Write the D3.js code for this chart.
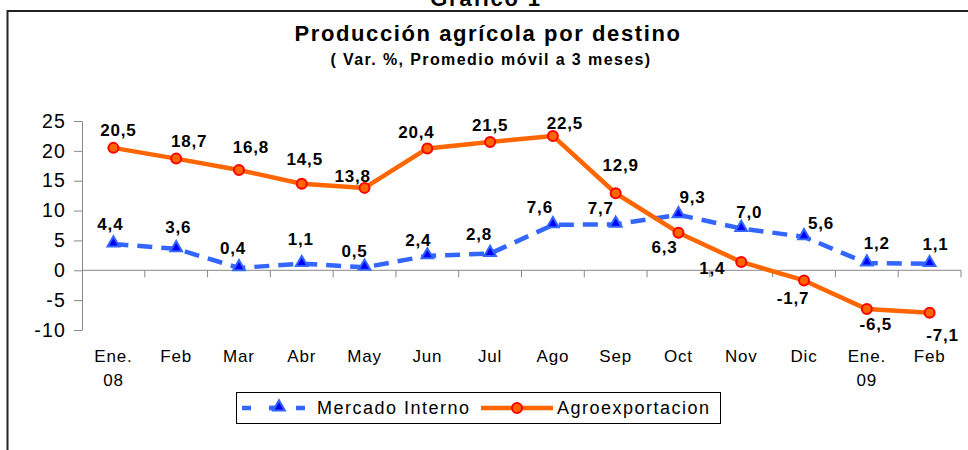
<!DOCTYPE html>
<html>
<head>
  <meta charset="utf-8">
  <script src="https://cdnjs.cloudflare.com/ajax/libs/d3/7.8.5/d3.min.js"></script>
  <style>
    body { margin: 0; background: #fff; }
    svg { display: block; font-family: "Liberation Sans", Arial, sans-serif; }
  </style>
</head>
<body>
  <svg></svg>
  <script>
    // data
    var categories = ["Ene.|08", "Feb", "Mar", "Abr", "May", "Jun", "Jul", "Ago", "Sep", "Oct", "Nov", "Dic", "Ene.|09", "Feb"];
    var mercadoInterno = [4.4, 3.6, 0.4, 1.1, 0.5, 2.4, 2.8, 7.6, 7.7, 9.3, 7.0, 5.6, 1.2, 1.1];
    var agroexportacion = [20.5, 18.7, 16.8, 14.5, 13.8, 20.4, 21.5, 22.5, 12.9, 6.3, 1.4, -1.7, -6.5, -7.1];
    var yTicks = [-10, -5, 0, 5, 10, 15, 20, 25];
    var seriesNames = ["Mercado Interno", "Agroexportacion"];

    // label placement (offset from the point, in px)
    var mercadoLabelOffset = [[-3, -20], [2, -22], [-6, -20], [-1, -25], [-10, -16], [-9, -16], [-11, -20],
      [-13, -18], [-15, -16], [14, -18], [8, -17], [17, -14], [10, -20], [6, -20]];
    var agroLabelOffset = [[5, -18], [13, -18], [12, -23], [3, -25], [-12, -12], [-11, -17], [0, -17],
      [12, -13], [5, -28], [-14, 14], [-29, 6], [-11, 17], [9, 15], [13, 22]];

    var svgWidth = 968, svgHeight = 450;
    var svg = d3.select("svg").attr("width", svgWidth).attr("height", svgHeight);

    var blue = "#3366ff", orange = "#ff6600";

    // frame (right and bottom fall outside the picture)
    svg.append("rect")
      .attr("x", 7.5).attr("y", 11)
      .attr("width", 1000).attr("height", 500)
      .attr("fill", "none").attr("stroke", "#222").attr("stroke-width", 2);

    // titles (the first one is cut by the top edge, as in the source)
    svg.append("text").attr("x", 486).attr("y", 6)
      .attr("text-anchor", "middle").style("font-weight", "bold").style("font-size", "22px")
      .style("letter-spacing", "1.8px").text("Gráfico 1");
    svg.append("text").attr("x", 488).attr("y", 41)
      .attr("text-anchor", "middle").style("font-weight", "bold").style("font-size", "22px")
      .style("letter-spacing", "1.6px").text("Producción agrícola por destino");
    svg.append("text").attr("x", 491).attr("y", 64.5)
      .attr("text-anchor", "middle").style("font-weight", "bold").style("font-size", "16px")
      .style("letter-spacing", "1.4px").text("( Var. %, Promedio móvil a 3 meses)");

    // scales
    var x = d3.scaleBand().domain(d3.range(categories.length)).range([82, 961]);
    var y = d3.scaleLinear().domain([-10, 25]).range([330, 121]);
    var cx = function(i) { return x(i) + x.bandwidth() / 2; };

    // comma decimals, plain hyphen for negatives
    var fmt = function(v) { return v.toFixed(1).replace(".", ","); };

    // y axis
    var yAxis = svg.append("g").attr("transform", "translate(82,0)")
      .call(d3.axisLeft(y).tickValues(yTicks).tickFormat(function(d) { return String(d); })
        .tickSizeInner(8).tickSizeOuter(0).tickPadding(10));
    yAxis.select(".domain").attr("stroke", "#888");
    yAxis.selectAll(".tick line").attr("stroke", "#888");
    yAxis.selectAll(".tick text")
      .attr("fill", "#000").style("font-size", "19.5px").style("letter-spacing", "1.2px")
      .style("font-family", "'Liberation Sans', Arial, sans-serif")
      .attr("dx", 2);

    // x axis at zero, ticks between categories
    var xAxisG = svg.append("g").attr("transform", "translate(0," + y(0) + ")");
    xAxisG.append("line").attr("x1", 82).attr("x2", 961).attr("stroke", "#888");
    xAxisG.selectAll("line.tk").data(d3.range(categories.length)).enter().append("line")
      .attr("class", "tk")
      .attr("x1", function(i) { return x(i) + x.bandwidth(); })
      .attr("x2", function(i) { return x(i) + x.bandwidth(); })
      .attr("y1", 0).attr("y2", 7).attr("stroke", "#888");

    // category labels below plot
    var catText = svg.selectAll("text.cat").data(categories).enter().append("text")
      .attr("class", "cat")
      .attr("text-anchor", "middle")
      .style("font-size", "17px").style("letter-spacing", "0.8px");
    catText.each(function(d, i) {
      var parts = d.split("|");
      d3.select(this).selectAll("tspan").data(parts).enter().append("tspan")
        .attr("x", cx(i))
        .attr("y", function(p, j) { return 362 + j * 24; })
        .text(function(p) { return p; });
    });

    // lines
    var line = d3.line().x(function(d, i) { return cx(i); }).y(function(d) { return y(d); });

    svg.append("path").datum(mercadoInterno)
      .attr("d", line).attr("fill", "none")
      .attr("stroke", blue).attr("stroke-width", 4.5).attr("stroke-dasharray", "15,9");

    svg.append("path").datum(agroexportacion)
      .attr("d", line).attr("fill", "none")
      .attr("stroke", orange).attr("stroke-width", 4.5).attr("stroke-linejoin", "round");

    // markers
    var tri = d3.symbol().type(d3.symbolTriangle).size(60);
    svg.selectAll("path.tri").data(mercadoInterno).enter().append("path")
      .attr("class", "tri").attr("d", tri)
      .attr("transform", function(d, i) { return "translate(" + cx(i) + "," + (y(d) - 1) + ")"; })
      .attr("fill", "#0000ff").attr("stroke", blue).attr("stroke-width", 2);

    svg.selectAll("circle.pt").data(agroexportacion).enter().append("circle")
      .attr("class", "pt")
      .attr("cx", function(d, i) { return cx(i); })
      .attr("cy", function(d) { return y(d); })
      .attr("r", 5).attr("fill", orange).attr("stroke", "#ff0000").attr("stroke-width", 2);

    // data labels
    function drawLabels(values, offsets) {
      svg.append("g").selectAll("text").data(values).enter().append("text")
        .attr("x", function(d, i) { return cx(i) + offsets[i][0]; })
        .attr("y", function(d, i) { return y(d) + offsets[i][1]; })
        .attr("dy", "0.36em")
        .attr("text-anchor", "middle")
        .style("font-weight", "bold").style("font-size", "17px").style("letter-spacing", "0.8px")
        .text(fmt);
    }
    drawLabels(mercadoInterno, mercadoLabelOffset);
    drawLabels(agroexportacion, agroLabelOffset);

    // legend
    var lg = svg.append("g");
    lg.append("rect").attr("x", 236.5).attr("y", 392.5).attr("width", 484).attr("height", 31)
      .attr("fill", "#fff").attr("stroke", "#000").attr("stroke-width", 1);
    lg.append("line").attr("x1", 242).attr("x2", 306).attr("y1", 408).attr("y2", 408)
      .attr("stroke", blue).attr("stroke-width", 4.5).attr("stroke-dasharray", "9,18");
    lg.append("line").attr("x1", 270).attr("x2", 282).attr("y1", 408).attr("y2", 408)
      .attr("stroke", blue).attr("stroke-width", 4.5);
    lg.append("path").attr("d", tri).attr("transform", "translate(279,407)")
      .attr("fill", "#0000ff").attr("stroke", blue).attr("stroke-width", 2);
    lg.append("text").attr("x", 317).attr("y", 414)
      .style("font-size", "18px").style("letter-spacing", "1.5px").text(seriesNames[0]);
    lg.append("line").attr("x1", 481).attr("x2", 553).attr("y1", 408).attr("y2", 408)
      .attr("stroke", orange).attr("stroke-width", 4.5);
    lg.append("circle").attr("cx", 517).attr("cy", 408).attr("r", 5)
      .attr("fill", orange).attr("stroke", "#ff0000").attr("stroke-width", 2);
    lg.append("text").attr("x", 557).attr("y", 414)
      .style("font-size", "18px").style("letter-spacing", "1.5px").text(seriesNames[1]);
  </script>
</body>
</html>
